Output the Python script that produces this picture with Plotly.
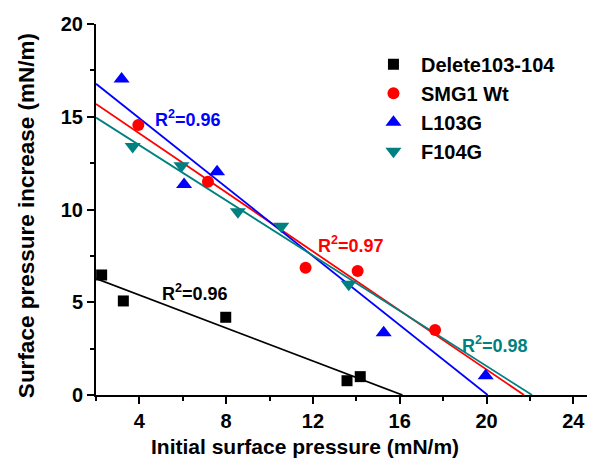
import numpy as np
import plotly.graph_objects as go

# ---- data ----
series_names = ["Delete103-104", "SMG1 Wt", "L103G", "F104G"]

del_x = [2.26, 3.26, 7.98, 13.57, 14.18]
del_y = [6.47, 5.07, 4.19, 0.77, 0.99]

wt_x = [3.95, 7.16, 11.66, 14.06, 17.63]
wt_y = [14.56, 11.50, 6.86, 6.68, 3.50]

l103_x = [3.18, 6.06, 7.58, 15.26, 19.96]
l103_y = [17.03, 11.35, 12.04, 3.36, 1.04]

f104_x = [3.69, 5.94, 8.54, 10.54, 13.65]
f104_y = [13.39, 12.36, 9.88, 9.10, 5.97]

r2_labels = ["R<sup>2</sup>=0.96", "R<sup>2</sup>=0.97", "R<sup>2</sup>=0.96", "R<sup>2</sup>=0.98"]

x_ticks = [4, 8, 12, 16, 20, 24]
y_ticks = [0, 5, 10, 15, 20]

x_title = "Initial surface pressure (mN/m)"
y_title = "Surface pressure increase (mN/m)"

# ---- styling ----
colors = ["#000000", "#FF0000", "#0000FF", "#008080"]
symbols = ["square", "circle", "triangle-up", "triangle-down"]
sizes = [11, 12, 14, 14]
FONT = "Arial, Liberation Sans, sans-serif"
XMIN, XMAX = 2, 25

fig = go.Figure()

data = [(del_x, del_y), (wt_x, wt_y), (l103_x, l103_y), (f104_x, f104_y)]

# fitted lines from axis start to x-intercept
for (xs, ys), c in zip(data, colors):
    m, b = np.polyfit(xs, ys, 1)
    x_end = -b / m
    fig.add_trace(go.Scatter(
        x=[XMIN, x_end], y=[m * XMIN + b, 0], mode="lines",
        line=dict(color=c, width=1.8), showlegend=False, hoverinfo="skip"))

for (xs, ys), name, c, s, sz in zip(data, series_names, colors, symbols, sizes):
    fig.add_trace(go.Scatter(
        x=xs, y=ys, mode="markers", name=name,
        marker=dict(color=c, symbol=s, size=sz, line=dict(width=0))))

# R^2 annotations
ann_pos = [(6.55, 5.55), (13.77, 8.09), (6.25, 14.88), (20.41, 2.7)]
for lbl, (ax, ay), c in zip(r2_labels, ann_pos, colors):
    fig.add_annotation(x=ax, y=ay, text=lbl, showarrow=False,
                       font=dict(family=FONT, size=18, color=c, weight="bold"))

# axis titles as annotations (positioned like the original)
fig.add_annotation(xref="paper", yref="paper", x=0.419, y=-0.140, text=x_title,
                   showarrow=False, xanchor="center", yanchor="middle",
                   font=dict(family=FONT, size=21, color="black", weight="bold"))
fig.add_annotation(xref="paper", yref="paper", x=-0.138, y=0.4825, text=y_title,
                   showarrow=False, xanchor="center", yanchor="middle", textangle=-90,
                   font=dict(family=FONT, size=22.5, color="black", weight="bold"))

axis_common = dict(
    showline=True, linewidth=2, linecolor="black", showgrid=False, zeroline=False,
    ticks="outside", ticklen=7, tickwidth=2, tickcolor="black", automargin=False,
    tickfont=dict(family=FONT, size=20, color="black", weight="bold"),
)

# the page body has an 8px default margin, so the figure is sized/offset to compensate
fig.update_layout(
    width=587, height=455,
    margin=dict(l=88, r=0, t=16, b=68),
    paper_bgcolor="white", plot_bgcolor="white",
    font=dict(family=FONT, color="black"),
    xaxis=dict(range=[XMIN, XMAX], tickvals=x_ticks, **axis_common,
               minor=dict(ticks="outside", ticklen=4, tickwidth=2, tickcolor="black",
                          tick0=0, dtick=2)),
    yaxis=dict(range=[0, 20], tickvals=y_ticks, **axis_common,
               minor=dict(ticks="outside", ticklen=4, tickwidth=2, tickcolor="black",
                          tick0=0, dtick=2.5)),
    legend=dict(x=0.541, y=0.944, xanchor="left", yanchor="top", itemwidth=45,
                bgcolor="rgba(0,0,0,0)",
                font=dict(family=FONT, size=20, color="black", weight="bold")),
    showlegend=True,
)

fig.write_html("out.html")
